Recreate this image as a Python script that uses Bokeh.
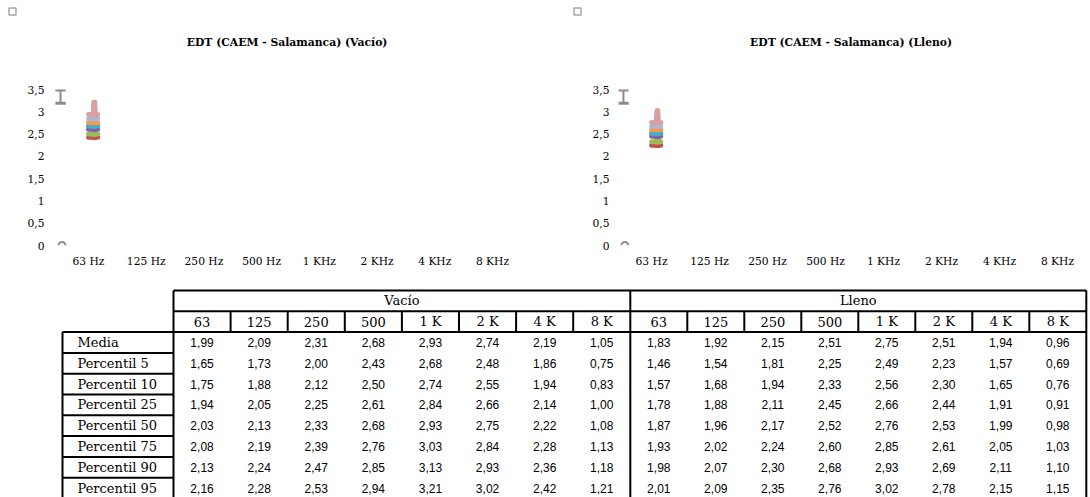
import math
from bokeh.plotting import figure
from bokeh.layouts import column, row
from bokeh.models import (Range1d, FactorRange, FixedTicker, CustomJSTickFormatter,
                          ColumnDataSource)
from bokeh.transform import dodge
from bokeh.core.properties import value
from bokeh.embed import file_html
from bokeh.resources import INLINE

# ---------------- data ----------------
bands = ["63 Hz", "125 Hz", "250 Hz", "500 Hz", "1 KHz", "2 KHz", "4 KHz", "8 KHz"]
table_bands = ["63", "125", "250", "500", "1 K", "2 K", "4 K", "8 K"]
stats = ["Media", "Percentil 5", "Percentil 10", "Percentil 25", "Percentil 50",
         "Percentil 75", "Percentil 90", "Percentil 95"]
conditions = ["Vacío", "Lleno"]
titles = ["EDT  (CAEM - Salamanca) (Vacío)", "EDT  (CAEM - Salamanca) (Lleno)"]

vacio_media = [1.99, 2.09, 2.31, 2.68, 2.93, 2.74, 2.19, 1.05]
vacio_p5 = [1.65, 1.73, 2.00, 2.43, 2.68, 2.48, 1.86, 0.75]
vacio_p10 = [1.75, 1.88, 2.12, 2.50, 2.74, 2.55, 1.94, 0.83]
vacio_p25 = [1.94, 2.05, 2.25, 2.61, 2.84, 2.66, 2.14, 1.00]
vacio_p50 = [2.03, 2.13, 2.33, 2.68, 2.93, 2.75, 2.22, 1.08]
vacio_p75 = [2.08, 2.19, 2.39, 2.76, 3.03, 2.84, 2.28, 1.13]
vacio_p90 = [2.13, 2.24, 2.47, 2.85, 3.13, 2.93, 2.36, 1.18]
vacio_p95 = [2.16, 2.28, 2.53, 2.94, 3.21, 3.02, 2.42, 1.21]

lleno_media = [1.83, 1.92, 2.15, 2.51, 2.75, 2.51, 1.94, 0.96]
lleno_p5 = [1.46, 1.54, 1.81, 2.25, 2.49, 2.23, 1.57, 0.69]
lleno_p10 = [1.57, 1.68, 1.94, 2.33, 2.56, 2.30, 1.65, 0.76]
lleno_p25 = [1.78, 1.88, 2.11, 2.45, 2.66, 2.44, 1.91, 0.91]
lleno_p50 = [1.87, 1.96, 2.17, 2.52, 2.76, 2.53, 1.99, 0.98]
lleno_p75 = [1.93, 2.02, 2.24, 2.60, 2.85, 2.61, 2.05, 1.03]
lleno_p90 = [1.98, 2.07, 2.30, 2.68, 2.93, 2.69, 2.11, 1.10]
lleno_p95 = [2.01, 2.09, 2.35, 2.76, 3.02, 2.78, 2.15, 1.15]

y_ticks = [0, 0.5, 1, 1.5, 2, 2.5, 3, 3.5]
bracket = [3.19, 3.49]      # grey whisker artefact at the top-left of each chart

vacio = [vacio_media, vacio_p5, vacio_p10, vacio_p25, vacio_p50, vacio_p75, vacio_p90, vacio_p95]
lleno = [lleno_media, lleno_p5, lleno_p10, lleno_p25, lleno_p50, lleno_p75, lleno_p90, lleno_p95]

# ---------------- styles / layout ----------------
SERIES_COLORS = ["#4F81BD", "#C0504D", "#9BBB59", "#8064A2", "#4BACC6",
                 "#F59A4A", "#A7B9D8", "#D9A09F"]
GRAY = "#8c8c8c"
SERIF = "DejaVu Serif"
SANS = "Liberation Sans"
PAGE_W = 1090
HEADER_H = 60
CHART_H = 210
FRAME_TOP, FRAME_H = 29, 156
CHART_W = [548, 542]
BORDER_L = [53, 70]
BORDER_R = [21, 0]
PADS = [0.107, 0.07]


def make_chart(series, width, border_left, border_right, pad):
    p = figure(width=width, height=CHART_H,
               x_range=FactorRange(factors=bands, range_padding=pad,
                                   range_padding_units="absolute"),
               y_range=Range1d(0, 3.5),
               output_backend="svg", toolbar_location=None,
               min_border_left=border_left, min_border_right=border_right,
               min_border_top=FRAME_TOP, min_border_bottom=CHART_H - FRAME_TOP - FRAME_H)
    p.outline_line_color = None
    p.grid.visible = False
    p.axis.axis_line_color = None
    p.axis.major_tick_line_color = None
    p.axis.minor_tick_line_color = None
    p.axis.major_tick_out = 0
    p.axis.major_tick_in = 0
    p.axis.minor_tick_out = 0
    p.axis.major_label_text_font = SERIF
    p.axis.major_label_text_font_size = "10.7px"
    p.axis.major_label_text_color = "#000000"
    p.xaxis.major_label_standoff = 9
    p.yaxis.major_label_standoff = 9
    p.yaxis.ticker = FixedTicker(ticks=y_ticks)
    p.yaxis.formatter = CustomJSTickFormatter(code="return String(tick).replace('.', ',');")

    xr = p.x_range
    # grey whisker artefact
    bsrc = ColumnDataSource(dict(x=[bands[0]], lo=[bracket[0]], hi=[bracket[1]]))
    p.segment(x0=dodge("x", -0.485, range=xr), x1=dodge("x", -0.485, range=xr),
              y0="lo", y1="hi", source=bsrc, line_color=GRAY, line_width=2)
    p.segment(x0=dodge("x", -0.575, range=xr), x1=dodge("x", -0.395, range=xr),
              y0="hi", y1="hi", source=bsrc, line_color=GRAY, line_width=3)
    p.segment(x0=dodge("x", -0.575, range=xr), x1=dodge("x", -0.395, range=xr),
              y0="lo", y1="lo", source=bsrc, line_color=GRAY, line_width=3)
    # small arch artefact at the origin
    asrc = ColumnDataSource(dict(x=[bands[0]], y=[y_ticks[0]]))
    p.arc(x=dodge("x", -0.46, range=xr), y="y", radius=3.5, radius_units="screen",
          start_angle=0, end_angle=math.pi, source=asrc, line_color=GRAY, line_width=2)

    # collapsed series markers
    for vals, color in zip(series, SERIES_COLORS):
        src = ColumnDataSource(dict(x=[bands[0]], y=[vals[3]], y_next=[vals[4]]))
        p.segment(x0=dodge("x", 0.002, range=xr), x1=dodge("x", 0.158, range=xr),
                  y0="y", y1="y", source=src, line_color=color, line_width=5,
                  line_cap="round")
        p.segment(x0=dodge("x", 0.1, range=xr), x1=dodge("x", 0.1, range=xr),
                  y0="y", y1="y_next", source=src, line_color=color, line_width=6,
                  line_cap="round")
    return p


p1 = make_chart(vacio, CHART_W[0], BORDER_L[0], BORDER_R[0], PADS[0])
p2 = make_chart(lleno, CHART_W[1], BORDER_L[1], BORDER_R[1], PADS[1])

# ---------------- header strip with chart titles ----------------
hp = figure(width=PAGE_W, height=HEADER_H, x_range=Range1d(0, PAGE_W),
            y_range=Range1d(HEADER_H, 0), x_axis_location=None, y_axis_location=None,
            output_backend="svg", toolbar_location=None, min_border=0)
hp.grid.visible = False
hp.outline_line_color = None
fig_left = [0, CHART_W[0]]
frame_l = [fig_left[i] + BORDER_L[i] for i in range(2)]
frame_r = [fig_left[i] + CHART_W[i] - BORDER_R[i] for i in range(2)]
title_x = [(frame_l[i] + frame_r[i]) / 2 - 1.5 for i in range(2)]
hp.text(x=title_x, y=[42, 42], text=titles, text_align="center", text_baseline="middle",
        text_font=value(SERIF), text_font_size="10.8px", text_font_style="bold",
        text_color="#000000")
hp.scatter(x=[frame_l[i] - 41 for i in range(2)], y=[11, 11], marker="square", size=7,
           fill_color=None, line_color="#a6a6a6", line_width=1.5)

# ---------------- table ----------------
FIG_TOP, FIG_BOTTOM = HEADER_H + CHART_H, 497
tp = figure(width=PAGE_W, height=FIG_BOTTOM - FIG_TOP,
            x_range=Range1d(0, PAGE_W), y_range=Range1d(FIG_BOTTOM, FIG_TOP),
            x_axis_location=None, y_axis_location=None,
            output_backend="svg", toolbar_location=None, min_border=0)
tp.grid.visible = False
tp.outline_line_color = None

LABEL_LEFT, BLOCK_LEFT = 62, 173
COL_W = [57.1, 57.0]
TOP, ROW_H = 290, 20.8
LINE_BOTTOM = 510
label_x = 77

block_edges = []
left = BLOCK_LEFT
for w in COL_W:
    block_edges.append([left + w * k for k in range(len(table_bands) + 1)])
    left = left + w * len(table_bands)
right_edge = block_edges[-1][-1]

h1, h2, data_top = TOP, TOP + ROW_H, TOP + 2 * ROW_H

# lines
x0s, y0s, x1s, y1s = [], [], [], []
def seg(a, b, c, d):
    x0s.append(a); y0s.append(b); x1s.append(c); y1s.append(d)

seg(BLOCK_LEFT, h1, right_edge, h1)
seg(BLOCK_LEFT, h2, right_edge, h2)
seg(LABEL_LEFT, data_top, right_edge, data_top)
for i in range(1, len(stats) + 1):
    seg(LABEL_LEFT, data_top + ROW_H * i, BLOCK_LEFT, data_top + ROW_H * i)
seg(LABEL_LEFT, data_top, LABEL_LEFT, LINE_BOTTOM)
seg(BLOCK_LEFT, h1, BLOCK_LEFT, LINE_BOTTOM)
for edges in block_edges:
    seg(edges[-1], h1, edges[-1], LINE_BOTTOM)
    for e in edges[1:-1]:
        seg(e, h2, e, data_top)
tp.segment(x0=x0s, y0=y0s, x1=x1s, y1=y1s, line_color="#000000", line_width=2)

# header texts
cond_x = [(e[0] + e[-1]) / 2 for e in block_edges]
tp.text(x=cond_x, y=[h1 + ROW_H / 2] * 2, text=conditions, text_align="center",
        text_baseline="middle", text_font=value(SERIF), text_font_size="13px",
        text_color="#000000")
hx, hy, ht = [], [], []
for edges in block_edges:
    for k, name in enumerate(table_bands):
        hx.append((edges[k] + edges[k + 1]) / 2)
        hy.append(h2 + ROW_H / 2)
        ht.append(name)
tp.text(x=hx, y=hy, text=ht, text_align="center", text_baseline="middle",
        text_font=value(SERIF), text_font_size="13px", text_color="#000000")

# row labels
tp.text(x=[label_x] * len(stats), y=[data_top + ROW_H * (i + 0.5) for i in range(len(stats))],
        text=stats, text_align="left", text_baseline="middle",
        text_font=value(SERIF), text_font_size="13px", text_color="#000000")

# values
vx, vy, vt = [], [], []
for edges, block in zip(block_edges, [vacio, lleno]):
    for i, vals in enumerate(block):
        for k, v in enumerate(vals):
            vx.append((edges[k] + edges[k + 1]) / 2)
            vy.append(data_top + ROW_H * (i + 0.5))
            vt.append(f"{v:.2f}".replace(".", ","))
tp.text(x=vx, y=vy, text=vt, text_align="center", text_baseline="middle",
        text_font=value(SANS), text_font_size="12px", text_color="#000000")

layout = column(hp, row(p1, p2, spacing=0), tp, spacing=0)
open("out.html", "w").write(file_html(layout, INLINE, "EDT (CAEM - Salamanca)"))
